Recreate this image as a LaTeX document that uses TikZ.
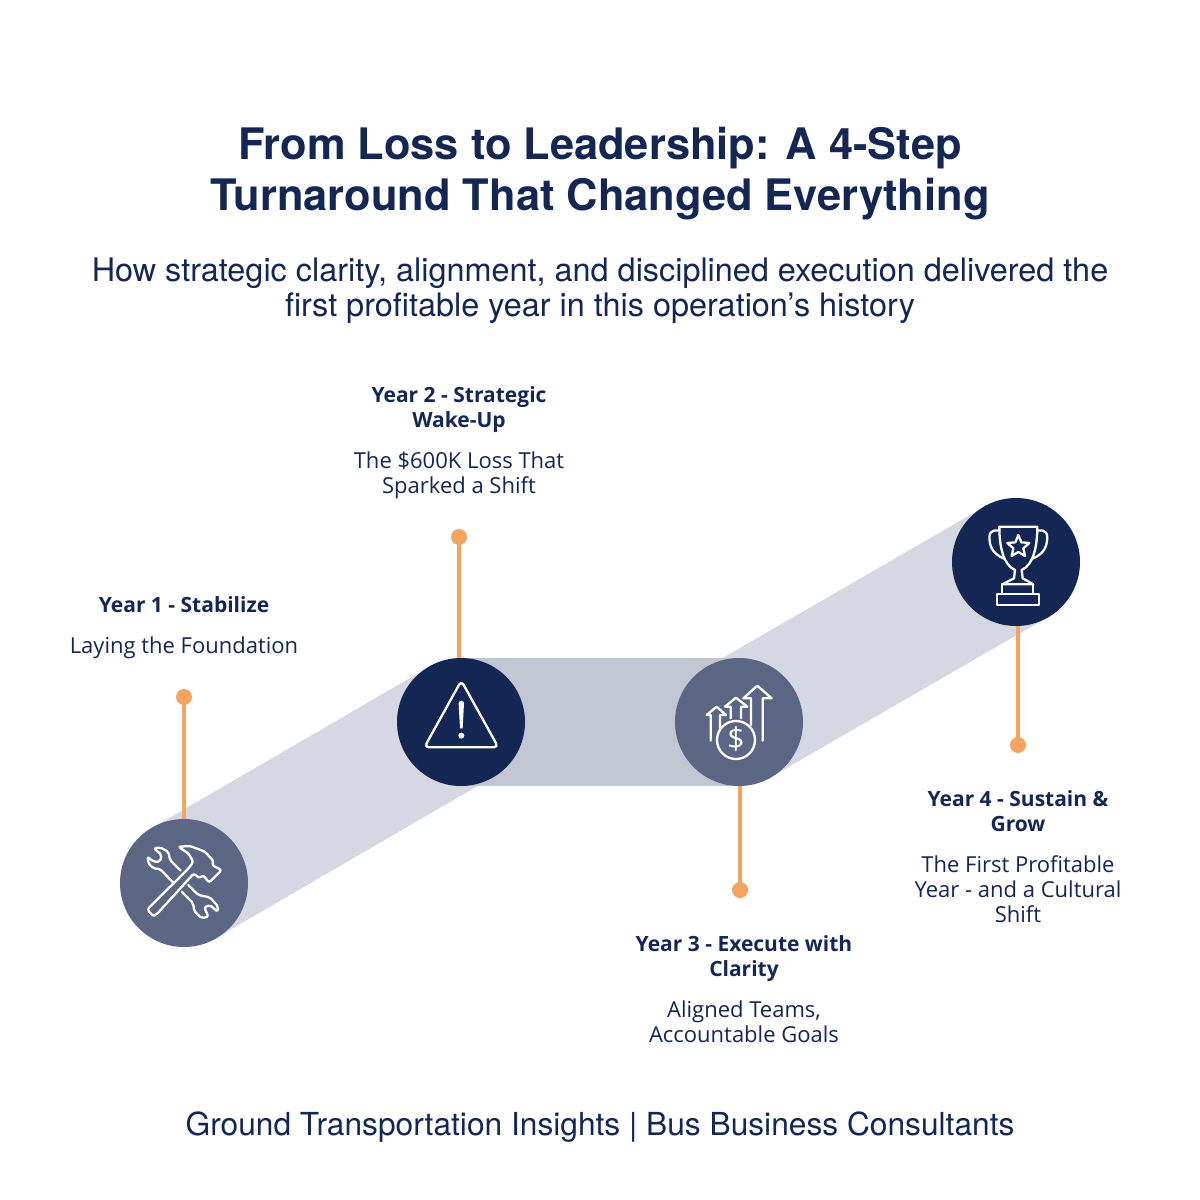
\documentclass[tikz,border=0pt]{standalone}
\usepackage{fontspec}
\setmainfont{Open Sans}
\newfontfamily\titlefont{TeX Gyre Heros}
\newfontfamily\subfont{TeX Gyre Heros}
\definecolor{navy}{HTML}{132654}
\definecolor{slate}{HTML}{5A6684}
\definecolor{bandlight}{HTML}{D5D8E2}
\definecolor{banddark}{HTML}{C2C6D3}
\definecolor{stem}{HTML}{F4A461}
\newcommand{\stephead}[1]{{\fontsize{21}{25}\selectfont\bfseries #1}}
\tikzset{
  px/.style={x=1pt,y=-1pt},
  stepdisc/.style={circle,minimum size=128pt,inner sep=0pt},
  pin/.style={stem,line width=3.4pt},
  pindot/.style={circle,fill=stem,minimum size=16pt,inner sep=0pt},
  icon/.style={white,line width=2.3pt,line join=round,line cap=round},
  iconscope/.style={x=0.3333pt,y=-0.3333pt},
  titletext/.style={align=center,text=navy,font=\titlefont\fontsize{43.4}{51}\selectfont\bfseries},
  subtext/.style={align=center,text=navy,font=\subfont\fontsize{32.4}{35}\selectfont},
  foottext/.style={align=center,text=navy,font=\subfont\fontsize{31.7}{35}\selectfont},
  steptext/.style={align=center,text=navy,font=\fontsize{22}{25}\selectfont}
}
\begin{document}
\begin{tikzpicture}[px]
\useasboundingbox (0,0) rectangle (1200,1200);
\fill[white] (0,0) rectangle (1200,1200);
% bands
\fill[bandlight] (152,828) -- (429,667) -- (493,777) -- (216,938) -- cycle;
\fill[bandlight] (707,667) -- (984,507) -- (1048,617) -- (771,777) -- cycle;
\fill[banddark] (461,658) rectangle (739,786);
% anchors
\coordinate (p1) at (184,883);
\coordinate (p2) at (461,722);
\coordinate (p3) at (739,722);
\coordinate (p4) at (1016,562);
\node[pindot] (d1) at (184,697) {};
\node[pindot] (d2) at (459,537) {};
\node[pindot] (d3) at (740,890) {};
\node[pindot] (d4) at (1018,745) {};
\draw[pin] (d1.center) -- (d1.center |- p1);
\draw[pin] (d2.center) -- (d2.center |- p2);
\draw[pin] (d3.center) -- (d3.center |- p3);
\draw[pin] (d4.center) -- (d4.center |- p4);
\node[stepdisc,fill=slate] (c1) at (p1) {};
\node[stepdisc,fill=navy] (c2) at (p2) {};
\node[stepdisc,fill=slate] (c3) at (p3) {};
\node[stepdisc,fill=navy] (c4) at (p4) {};
% tools icon
\begin{scope}[shift={(110,810)},iconscope]
\draw[icon,rounded corners=2.5pt] (128,318) -- (112,298) -- (225,186) -- (240,170) -- (250,155) -- (235,130) -- (205,110) -- (240,108) -- (285,125) -- (312,155) -- (305,165) -- (335,180) -- (297,218) -- (280,195) -- (268,205) -- (252,190) -- (138,315) -- cycle;
\draw[icon,rounded corners=2pt] (212,182) -- (180,150) -- (175,125) -- (150,112) -- (132,115) -- (155,135) -- (150,155) -- (130,155) -- (113,140) -- (115,160) -- (130,175) -- (150,177) -- (192,220);
\draw[icon,rounded corners=2pt] (235,225) -- (265,255) -- (300,262) -- (325,290) -- (322,305) -- (300,285) -- (283,292) -- (295,320) -- (275,325) -- (252,302) -- (250,280) -- (215,245);
\end{scope}
% warning icon
\begin{scope}[shift={(385,650)},iconscope]
\draw[icon,rounded corners=4.5pt] (229,92) -- (118,292) -- (340,292) -- cycle;
\fill[white] (221,160) arc (180:360:8) -- (233,235) -- (225,235) -- cycle;
\fill[white] (229,257) circle (9);
\end{scope}
% growth icon
\begin{scope}[shift={(665,650)},iconscope]
\draw[icon] (258,225) -- (258,145) -- (235,145) -- (277,107) -- (320,145) -- (293,145) -- (293,272);
\draw[icon] (197,205) -- (197,170) -- (180,170) -- (213,143) -- (247,170) -- (228,170) -- (228,205);
\draw[icon] (137,272) -- (137,195) -- (125,195) -- (155,170) -- (183,195) -- (165,195) -- (165,235);
\draw[icon] (213,270) circle (57);
\node[text=white,font=\fontsize{30}{30}\selectfont,inner sep=0pt] (dollar) at (213,268) {\$};
\end{scope}
% trophy icon
\begin{scope}[shift={(940,490)},iconscope]
\draw[icon] (178,110) -- (292,110) .. controls (292,170) and (280,225) .. (245,240) -- (248,265) -- (280,283) -- (187,283) -- (222,265) -- (225,240) .. controls (190,225) and (178,170) .. (178,110) -- cycle;
\draw[icon] (178,122) .. controls (150,118) and (145,130) .. (150,160) .. controls (155,185) and (175,200) .. (195,207);
\draw[icon] (292,122) .. controls (320,118) and (325,130) .. (320,160) .. controls (315,185) and (295,200) .. (275,207);
\draw[icon] (187,283) rectangle (280,313);
\draw[icon] (170,313) rectangle (298,345);
\draw[icon] (235,135) -- (244,157) -- (268,159) -- (250,175) -- (255,198) -- (235,186) -- (215,198) -- (220,175) -- (202,159) -- (226,157) -- cycle;
\end{scope}
% text
\node[titletext] (title) at (600,174) {From Loss to Leadership: A 4-Step\\Turnaround That Changed Everything};
\node[subtext] (sub) at (600,291) {How strategic clarity, alignment, and disciplined execution delivered the\\first profitable year in this operation’s history};
\node[steptext] (t1) at (184,628) {\stephead{Year 1 - Stabilize}\\[16pt]Laying the Foundation};
\node[steptext] (t2) at (459,443) {\stephead{Year 2 - Strategic}\\\stephead{Wake-Up}\\[16pt]The \$600K Loss That\\Sparked a Shift};
\node[steptext] (t3) at (744,989) {\stephead{Year 3 - Execute with}\\\stephead{Clarity}\\[16pt]Aligned Teams,\\Accountable Goals};
\node[steptext] (t4) at (1018,857) {\stephead{Year 4 - Sustain \&}\\\stephead{Grow}\\[16pt]The First Profitable\\Year - and a Cultural\\Shift};
\node[foottext] (foot) at (600,1127) {Ground Transportation Insights | Bus Business Consultants};
\end{tikzpicture}
\end{document}
